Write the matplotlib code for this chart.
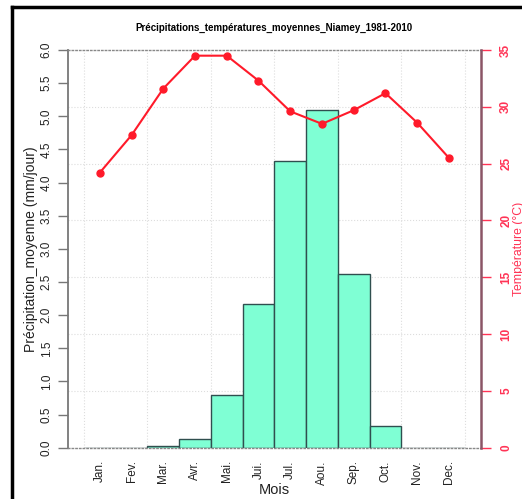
import matplotlib.pyplot as plt
from matplotlib.lines import Line2D

plt.rcParams['font.family'] = ['Liberation Sans', 'DejaVu Sans']

mois = ['Jan.', 'Fev.', 'Mar.', 'Avr.', 'Mai.', 'Jui.',
        'Jul.', 'Aou.', 'Sep.', 'Oct.', 'Nov.', 'Dec.']
precip = [0.0, 0.0, 0.02, 0.13, 0.79, 2.17, 4.33, 5.09, 2.62, 0.32, 0.0, 0.0]
temp = [24.2, 27.5, 31.6, 34.5, 34.5, 32.3, 29.6, 28.5, 29.7, 31.2, 28.6, 25.5]
precip_ticks = [0.0, 0.5, 1.0, 1.5, 2.0, 2.5, 3.0, 3.5, 4.0, 4.5, 5.0, 5.5, 6.0]
temp_ticks = [0, 5, 10, 15, 20, 25, 30, 35]

line_red = '#ff1a2a'
axis_red = '#ff3355'
x = list(range(1, 13))

fig = plt.figure(figsize=(5.22, 4.99), dpi=100)
ax = fig.add_axes([0.1303, 0.1028, 0.7906, 0.797])

# light dotted grid (follows the temperature ticks)
for t in temp_ticks[1:-1]:
    ax.axhline(t * 6 / 35, color='#dddddd', lw=0.8, ls=':', zorder=0)
for g in [0.5, 2.5, 4.5, 6.5, 8.5, 10.5, 12.5]:
    ax.axvline(g, color='#dddddd', lw=0.8, ls=':', zorder=0)

ax.bar(x, precip, width=1.0, color='#7fffd4', edgecolor='#2f4f4f', linewidth=1.0, zorder=2)
ax.set_xlim(0, 13)
ax.set_ylim(0, 6)
ax.set_yticks(precip_ticks)
ax.set_yticklabels([f'{v:.1f}' for v in precip_ticks])
ax.set_xticks(x)
ax.set_xticklabels(mois)
ax.tick_params(axis='x', length=0, pad=9, labelsize=8.5, labelrotation=90, colors='#222222')
ax.tick_params(axis='y', length=7, width=1, color='#777777', pad=4, labelsize=8.5,
               labelrotation=90, labelcolor='#222222')
for lbl in ax.get_yticklabels():
    lbl.set_va('center')
ax.set_xlabel('Mois', fontsize=10.5, color='#222222')
ax.xaxis.set_label_coords(0.5, -0.088)
ax.set_ylabel('Précipitation_moyenne (mm/jour)', fontsize=10, color='#222222')
ax.yaxis.set_label_coords(-0.072, 0.5)
ax.set_title('Précipitations_températures_moyennes_Niamey_1981-2010',
             fontsize=7, fontweight='bold', pad=13.5)

ax.spines['left'].set_color('#777777')
ax.spines['left'].set_linewidth(1.3)
for s in ['top', 'bottom']:
    ax.spines[s].set_color('#888888')
    ax.spines[s].set_linestyle(':')
    ax.spines[s].set_linewidth(1.0)
ax.spines['right'].set_visible(False)

ax2 = ax.twinx()
ax2.plot(x, temp, color=line_red, lw=1.5, marker='o', markersize=5, zorder=3)
ax2.set_ylim(0, 35)
ax2.set_yticks(temp_ticks)
ax2.tick_params(axis='y', length=7, width=1, color=axis_red, pad=7, labelsize=8.5,
                labelrotation=90, labelcolor=axis_red)
for lbl in ax2.get_yticklabels():
    lbl.set_va('center')
    lbl.set_fontweight('bold')
ax2.set_ylabel('Température (°C)', fontsize=8.8, color=axis_red)
ax2.yaxis.set_label_coords(1.078, 0.5)
ax2.spines['right'].set_color('#8b5566')
ax2.spines['right'].set_linewidth(1.8)
for s in ['top', 'bottom', 'left']:
    ax2.spines[s].set_visible(False)

# outer black frame (left and top edges visible)
fig.add_artist(Line2D([12 / 522, 12 / 522], [0, 1 - 7 / 499], color='black', lw=2.5,
                      transform=fig.transFigure))
fig.add_artist(Line2D([12 / 522, 1], [1 - 7 / 499, 1 - 7 / 499], color='black', lw=2.5,
                      transform=fig.transFigure))

fig.savefig('out.png', dpi=100)
